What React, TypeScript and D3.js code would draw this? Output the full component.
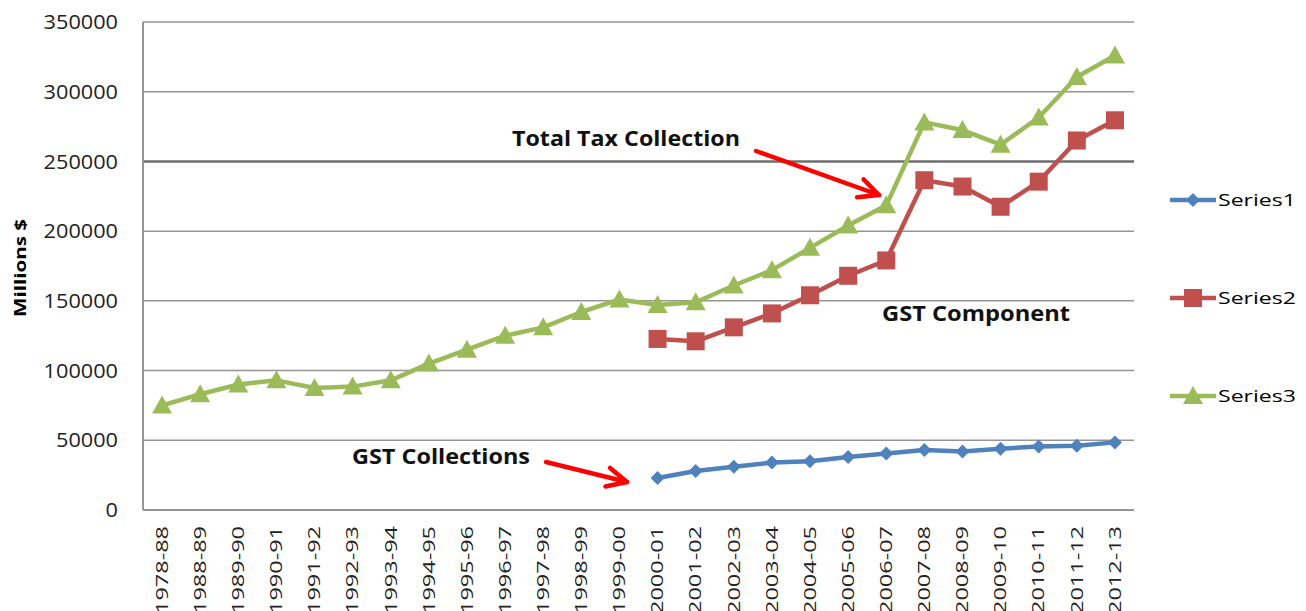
import * as d3 from "d3";

const categories = [
  "1978-88", "1988-89", "1989-90", "1990-91", "1991-92", "1992-93", "1993-94",
  "1994-95", "1995-96", "1996-97", "1997-98", "1998-99", "1999-00", "2000-01",
  "2001-02", "2002-03", "2003-04", "2004-05", "2005-06", "2006-07", "2007-08",
  "2008-09", "2009-10", "2010-11", "2011-12", "2012-13",
];

// GST collections (from 2000-01)
const series1: (number | null)[] = [
  null, null, null, null, null, null, null, null, null, null, null, null, null,
  23000, 28000, 31000, 34000, 35000, 38000, 40500, 43000, 42000, 44000, 45500, 46000, 48500,
];

// GST component
const series2: (number | null)[] = [
  null, null, null, null, null, null, null, null, null, null, null, null, null,
  122700, 121000, 131000, 141000, 154000, 168000, 179000, 236500, 232000, 217500, 235500, 265000, 279500,
];

// Total tax collection
const series3: (number | null)[] = [
  75000, 83000, 90000, 93000, 87500, 88500, 93000, 105000, 115000, 125000, 131000, 142000, 151000,
  147000, 149000, 161000, 172000, 188000, 204000, 218500, 278000, 272500, 262000, 281500, 310500, 326000,
];

const yTicks = [0, 50000, 100000, 150000, 200000, 250000, 300000, 350000];

const seriesNames = ["Series1", "Series2", "Series3"];
const colors = ["#4F81BD", "#C0504D", "#9BBB59"];

const W = 1306;
const H = 611;
const left = 143;
const right = 1134;
const top = 22;
const bottom = 510;
const font = "'Open Sans', sans-serif";

function Marker({ kind, x, y, color }: { kind: number; x: number; y: number; color: string }) {
  if (kind === 0) {
    const s = 7;
    return <path d={`M${x},${y - s}L${x + s},${y}L${x},${y + s}L${x - s},${y}Z`} fill={color} />;
  }
  if (kind === 1) {
    return <rect x={x - 9} y={y - 9} width={18} height={18} fill={color} />;
  }
  const s = 10;
  return <path d={`M${x},${y - s}L${x + s},${y + s * 0.8}L${x - s},${y + s * 0.8}Z`} fill={color} />;
}

function Arrow({ x1, y1, x2, y2 }: { x1: number; y1: number; x2: number; y2: number }) {
  const a = Math.atan2(y2 - y1, x2 - x1);
  const len = 22;
  const spread = 0.45;
  const p1 = [x2 - len * Math.cos(a - spread), y2 - len * Math.sin(a - spread)];
  const p2 = [x2 - len * Math.cos(a + spread), y2 - len * Math.sin(a + spread)];
  return (
    <g stroke="#FF0000" strokeWidth={4.5} fill="none" strokeLinecap="round" strokeLinejoin="round">
      <line x1={x1} y1={y1} x2={x2} y2={y2} />
      <polyline points={`${p1[0]},${p1[1]} ${x2},${y2} ${p2[0]},${p2[1]}`} />
    </g>
  );
}

export default function App() {
  const x = d3.scaleBand<string>().domain(categories).range([left, right]);
  const y = d3.scaleLinear().domain([0, 350000]).range([bottom, top]);
  const cx = (c: string) => (x(c) as number) + x.bandwidth() / 2;

  const all = [series1, series2, series3];
  const line = d3
    .line<number | null>()
    .defined((d) => d != null)
    .x((_, i) => cx(categories[i]))
    .y((d) => y(d as number));

  return (
    <svg width={W} height={H} style={{ position: "absolute", left: 0, top: 0, background: "#fff" }}>
      {yTicks.map((t) => (
        <g key={t}>
          {t > 0 && (
            <line x1={left} x2={right} y1={y(t)} y2={y(t)} stroke={t === 250000 ? "#6e6e6e" : "#959595"} strokeWidth={t === 250000 ? 2.5 : 1.5} />
          )}
          <text x={118} y={y(t)} dy="0.36em" textAnchor="end" fontFamily={font} fontSize={20} textLength={String(t).length * 12.4} lengthAdjust="spacingAndGlyphs" fill="#222">
            {t}
          </text>
        </g>
      ))}
      <line x1={left} x2={left} y1={top} y2={bottom} stroke="#959595" strokeWidth={2} />
      <line x1={left} x2={right} y1={bottom} y2={bottom} stroke="#959595" strokeWidth={2} />

      <text transform={`translate(26,268) rotate(-90)`} textAnchor="middle" fontFamily={font} fontSize={16} fontWeight="bold" textLength={98} lengthAdjust="spacingAndGlyphs" fill="#000">
        Millions $
      </text>

      {categories.map((c) => (
        <text key={c} transform={`translate(${cx(c)},${bottom + 16}) rotate(-90)`} dy="0.36em" textAnchor="end" fontFamily={font} fontSize={16} textLength={88} lengthAdjust="spacingAndGlyphs" fill="#222">
          {c}
        </text>
      ))}

      {all.map((s, k) => (
        <g key={k}>
          <path d={line(s) || ""} fill="none" stroke={colors[k]} strokeWidth={4.5} strokeLinejoin="round" />
          {s.map((v, i) =>
            v == null ? null : <Marker key={i} kind={k} x={cx(categories[i])} y={y(v)} color={colors[k]} />
          )}
        </g>
      ))}

      {seriesNames.map((n, k) => {
        const ly = 200 + k * 98;
        return (
          <g key={n}>
            <line x1={1170} x2={1216} y1={ly} y2={ly} stroke={colors[k]} strokeWidth={4.5} />
            <Marker kind={k} x={1193} y={ly} color={colors[k]} />
            <text x={1218} y={ly} dy="0.36em" fontFamily={font} fontSize={17} textLength={78} lengthAdjust="spacingAndGlyphs" fill="#000">
              {n}
            </text>
          </g>
        );
      })}

      <text x={512} y={146} fontFamily={font} fontSize={21} fontWeight="bold" textLength={228} lengthAdjust="spacingAndGlyphs" fill="#111">Total Tax Collection</text>
      <text x={882} y={321} fontFamily={font} fontSize={21} fontWeight="bold" textLength={188} lengthAdjust="spacingAndGlyphs" fill="#111">GST Component</text>
      <text x={352} y={464} fontFamily={font} fontSize={21} fontWeight="bold" textLength={178} lengthAdjust="spacingAndGlyphs" fill="#111">GST Collections</text>

      <Arrow x1={756} y1={151} x2={879} y2={195} />
      <Arrow x1={546} y1={462} x2={627} y2={482} />
    </svg>
  );
}
